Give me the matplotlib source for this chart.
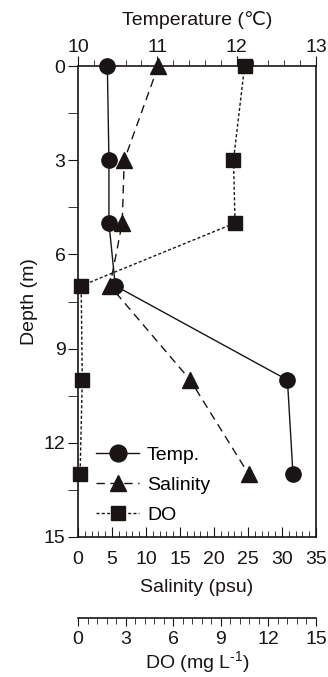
import matplotlib
matplotlib.use("Agg")
import matplotlib.pyplot as plt
from matplotlib.ticker import MultipleLocator

plt.rcParams['font.family'] = ['Liberation Sans', 'DejaVu Sans']
plt.rcParams['mathtext.fontset'] = 'custom'
plt.rcParams['mathtext.rm'] = 'Liberation Sans'
plt.rcParams['mathtext.default'] = 'rm'

# depth profile values
depth = [0, 3, 5, 7, 10, 13]
temp = [10.37, 10.39, 10.39, 10.47, 12.64, 12.71]
salinity = [11.8, 6.8, 6.5, 4.7, 16.5, 25.1]
do = [10.5, 9.8, 9.9, 0.2, 0.27, 0.13]

ink = '#1a1414'
fs = 14

fig = plt.figure(figsize=(3.28, 6.77), dpi=100)
ax = fig.add_axes([0.2378, 0.2068, 0.7256, 0.6957])

# salinity on main (bottom) axis
ax.set_xlim(0, 35)
ax.set_ylim(15, 0)
ax.xaxis.set_major_locator(MultipleLocator(5))
ax.xaxis.set_minor_locator(MultipleLocator(1))
ax.yaxis.set_major_locator(MultipleLocator(3))
ax.yaxis.set_minor_locator(MultipleLocator(1.5))
ax.tick_params(axis='x', which='both', direction='in', labelsize=fs, colors=ink, pad=10)
ax.tick_params(axis='x', which='major', length=7)
ax.tick_params(axis='x', which='minor', length=4)
ax.tick_params(axis='y', which='both', direction='out', labelsize=fs, colors=ink, length=7, pad=2)
ax.set_xlabel('Salinity (psu)', fontsize=fs, color=ink, labelpad=8)
ax.set_ylabel('Depth (m)', fontsize=fs, color=ink, labelpad=4)
for s in ax.spines.values():
    s.set_color(ink)
    s.set_linewidth(1.2)
l2, = ax.plot(salinity, depth, color=ink, ls=(0, (6, 4)), lw=1.0,
              marker='^', ms=11, clip_on=False, zorder=3, label='Salinity')

# temperature on top axis
axt = ax.twiny()
axt.set_xlim(10, 13)
axt.xaxis.set_major_locator(MultipleLocator(1))
axt.xaxis.set_minor_locator(MultipleLocator(0.2))
axt.tick_params(axis='x', which='both', direction='out', labelsize=fs, colors=ink, pad=0)
axt.tick_params(axis='x', which='major', length=7)
axt.tick_params(axis='x', which='minor', length=4)
axt.set_xlabel('Temperature (\u2103)', fontsize=fs, color=ink, labelpad=10)
for s in axt.spines.values():
    s.set_visible(False)
l1, = axt.plot(temp, depth, color=ink, ls='-', lw=1.0,
               marker='o', ms=11, clip_on=False, zorder=3, label='Temp.')

# dissolved oxygen on detached bottom axis
axd = ax.twiny()
axd.xaxis.set_ticks_position('bottom')
axd.xaxis.set_label_position('bottom')
axd.spines['bottom'].set_position(('axes', -0.172))
for k in ['top', 'left', 'right']:
    axd.spines[k].set_visible(False)
axd.spines['bottom'].set_color(ink)
axd.spines['bottom'].set_linewidth(1.2)
axd.set_xlim(0, 15)
axd.xaxis.set_major_locator(MultipleLocator(3))
axd.xaxis.set_minor_locator(MultipleLocator(0.6))
axd.tick_params(axis='x', which='both', direction='out', labelsize=fs, colors=ink, pad=3)
axd.tick_params(axis='x', which='major', length=6)
axd.tick_params(axis='x', which='minor', length=4)
axd.set_xlabel('DO (mg L$^{\\text{-}1}$)', fontsize=fs, color=ink, labelpad=1)
l3, = axd.plot(do, depth, color=ink, ls=(0, (2.2, 1.6)), lw=1.0,
               marker='s', ms=9.5, clip_on=False, zorder=3, label='DO')

axd.legend(handles=[l1, l2, l3], loc='lower left', bbox_to_anchor=(0.045, 0.012),
           frameon=False, fontsize=fs, handlelength=2.2, handletextpad=0.4,
           labelspacing=0.62, borderaxespad=0.0, markerscale=1.1)

fig.savefig('out.png', dpi=100)
